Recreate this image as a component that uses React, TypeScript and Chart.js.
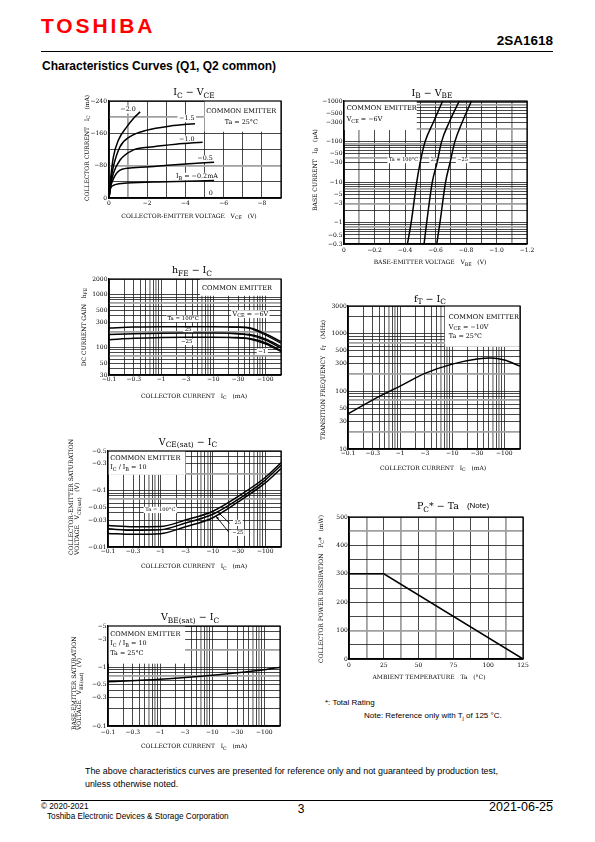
import React, { useEffect, useRef } from "react";
import { Chart, registerables } from "chart.js";
Chart.register(...registerables);

const SERIF = '"DejaVu Serif", "Liberation Serif", serif';
const SANS = '"Liberation Sans", Arial, sans-serif';

type Pt = [number, number];

// ---------------- Chart 1 : IC - VCE ----------------
const vceGrid = [0, 1, 2, 3, 4, 5, 6, 7, 8, 9];
const vceTickVals = [0, 2, 4, 6, 8];
const vceTickText = ["0", "−2", "−4", "−6", "−8"];
const icLinGrid = [0, 40, 80, 120, 160, 200, 240];
const icLinTickVals = [0, 80, 160, 240];
const icLinTickText = ["0", "−80", "−160", "−240"];
const icVceIbM20: Pt[] = [[0, 0], [0.1, 55], [0.23, 102], [0.49, 143], [0.93, 176], [1.3, 198], [1.63, 213]];
const icVceIbM15: Pt[] = [[0, 0], [0.1, 45], [0.23, 78], [0.58, 127], [1.1, 152], [2.0, 168], [3.2, 178], [4.5, 184]];
const icVceIbM10: Pt[] = [[0, 0], [0.1, 35], [0.23, 61], [0.58, 94], [1.28, 119], [2.33, 127], [3.5, 133], [4.9, 138]];
const icVceIbM05: Pt[] = [[0, 0], [0.05, 20], [0.14, 37], [0.49, 66], [1.1, 74], [2.33, 78], [4, 84], [5.5, 88.5]];
const icVceIbM02: Pt[] = [[0, 0], [0.03, 12], [0.09, 25], [0.32, 33], [0.93, 37], [3, 40], [5.5, 43]];
const icVceIb0: Pt[] = [[0, 0], [5.5, 0]];

// ---------------- Chart 2 : IB - VBE ----------------
const vbeGrid = [0, 0.1, 0.2, 0.3, 0.4, 0.5, 0.6, 0.7, 0.8, 0.9, 1.0, 1.1, 1.2];
const vbeTickVals = [0, 0.2, 0.4, 0.6, 0.8, 1.0, 1.2];
const vbeTickText = ["0", "−0.2", "−0.4", "−0.6", "−0.8", "−1.0", "−1.2"];
const ibGrid = [0.3, 0.4, 0.5, 0.6, 0.7, 0.8, 0.9, 1, 2, 3, 4, 5, 6, 7, 8, 9, 10, 20, 30, 40, 50, 60, 70, 80, 90, 100, 200, 300, 400, 500, 600, 700, 800, 900, 1000];
const ibTickVals = [0.3, 0.5, 1, 3, 5, 10, 30, 50, 100, 300, 500, 1000];
const ibTickText = ["−0.3", "−0.5", "−1", "−3", "−5", "−10", "−30", "−50", "−100", "−300", "−500", "−1000"];
const ibVbeTa100: Pt[] = [[0.416, 0.3], [0.44, 1], [0.477, 10], [0.499, 30], [0.532, 100], [0.586, 300], [0.647, 1000]];
const ibVbeTa25: Pt[] = [[0.525, 0.3], [0.542, 1], [0.579, 10], [0.61, 30], [0.64, 100], [0.69, 300], [0.756, 1000]];
const ibVbeTaM25: Pt[] = [[0.608, 0.3], [0.629, 1], [0.666, 10], [0.695, 30], [0.727, 100], [0.775, 300], [0.836, 1000]];

// ---------------- shared IC log axis ----------------
const icLogGrid = [0.1, 0.2, 0.3, 0.4, 0.5, 0.6, 0.7, 0.8, 0.9, 1, 2, 3, 4, 5, 6, 7, 8, 9, 10, 20, 30, 40, 50, 60, 70, 80, 90, 100, 200];
const icLogTickVals = [0.1, 0.3, 1, 3, 10, 30, 100];
const icLogTickText = ["−0.1", "−0.3", "−1", "−3", "−10", "−30", "−100"];

// ---------------- Chart 3 : hFE - IC ----------------
const hfeGrid = [30, 40, 50, 60, 70, 80, 90, 100, 200, 300, 400, 500, 600, 700, 800, 900, 1000, 2000];
const hfeTickVals = [30, 50, 100, 300, 500, 1000, 2000];
const hfeTickText = ["30", "50", "100", "300", "500", "1000", "2000"];
const hfeTa100V6: Pt[] = [[0.1, 235], [0.3, 244], [1, 248], [3, 249], [10, 249], [30, 245], [50, 236], [100, 182], [200, 129]];
const hfeTa25V6: Pt[] = [[0.1, 176], [0.3, 183], [1, 187], [3, 188], [10, 188], [30, 184], [50, 176], [100, 145], [200, 104]];
const hfeTaM25V6: Pt[] = [[0.1, 140], [0.3, 149], [1, 155], [3, 157], [10, 157], [30, 154], [50, 148], [100, 123], [200, 87]];
const hfeTa100V1: Pt[] = [[20, 246], [50, 230], [100, 172], [200, 120]];
const hfeTa25V1: Pt[] = [[20, 185], [50, 171], [100, 138], [200, 97]];
const hfeTaM25V1: Pt[] = [[20, 155], [50, 144], [100, 117], [200, 83]];

// ---------------- Chart 4 : fT - IC ----------------
const ftGrid = [10, 20, 30, 40, 50, 60, 70, 80, 90, 100, 200, 300, 400, 500, 600, 700, 800, 900, 1000, 2000, 3000];
const ftTickVals = [10, 30, 50, 100, 300, 500, 1000, 3000];
const ftTickText = ["10", "30", "50", "100", "300", "500", "1000", "3000"];
const ftCurve: Pt[] = [[0.1, 40.6], [0.3, 71], [1, 123], [3, 204], [10, 295], [30, 361], [55, 376], [100, 347], [200, 273]];

// ---------------- Chart 5 : VCE(sat) - IC ----------------
const vcesatGrid = [0.01, 0.02, 0.03, 0.04, 0.05, 0.06, 0.07, 0.08, 0.09, 0.1, 0.2, 0.3, 0.4, 0.5];
const vcesatTickVals = [0.01, 0.03, 0.05, 0.1, 0.3, 0.5];
const vcesatTickText = ["−0.01", "−0.03", "−0.05", "−0.1", "−0.3", "−0.5"];
const vcesatTa100: Pt[] = [[0.1, 0.024], [0.3, 0.0228], [1, 0.023], [3, 0.03], [10, 0.043], [30, 0.078], [100, 0.17], [200, 0.31]];
const vcesatTa25: Pt[] = [[0.1, 0.021], [0.3, 0.0198], [1, 0.0202], [3, 0.0265], [10, 0.038], [30, 0.069], [100, 0.153], [200, 0.28]];
const vcesatTaM25: Pt[] = [[0.1, 0.0174], [0.3, 0.0168], [1, 0.0172], [3, 0.0228], [10, 0.033], [30, 0.062], [100, 0.136], [200, 0.245]];

// ---------------- Chart 6 : PC - Ta ----------------
const taGrid = [0, 12.5, 25, 37.5, 50, 62.5, 75, 87.5, 100, 112.5, 125];
const taTickVals = [0, 25, 50, 75, 100, 125];
const taTickText = ["0", "25", "50", "75", "100", "125"];
const pcGrid = [0, 50, 100, 150, 200, 250, 300, 350, 400, 450, 500];
const pcTickVals = [0, 100, 200, 300, 400, 500];
const pcTickText = ["0", "100", "200", "300", "400", "500"];
const pcTaCurve: Pt[] = [[0, 300], [25, 300], [125, 0]];

// ---------------- Chart 7 : VBE(sat) - IC ----------------
const vbesatGrid = [0.1, 0.2, 0.3, 0.4, 0.5, 0.6, 0.7, 0.8, 0.9, 1, 2, 3, 4, 5];
const vbesatTickVals = [0.1, 0.3, 0.5, 1, 3, 5];
const vbesatTickText = ["−0.1", "−0.3", "−0.5", "−1", "−3", "−5"];
const vbesatCurve: Pt[] = [[0.1, 0.564], [1, 0.62], [10, 0.727], [100, 0.9], [200, 1.0]];

// ---------------- types ----------------
type AxisSpec = {
  type: "linear" | "logarithmic";
  min: number; max: number;
  grid: number[]; vals: number[]; text: string[];
  pad: number; grey?: number[];
};
type Series = { pts: Pt[]; w?: number; smooth?: boolean };
type Note = { x: number; y: number; t: string; align?: "left" | "center" | "right"; bg?: boolean; size?: number };
type Rect = { x0: number; x1: number; y0: number; y1: number };
type Seg = { x0: number; y0: number; x1: number; y1: number };
type PageText = { x: number; y: number; t: string; size?: number; rot?: boolean; align?: "left" | "center" | "right"; font?: string };
type Spec = {
  box: [number, number, number, number];
  area: [number, number, number, number];
  x: AxisSpec; y: AxisSpec;
  series: Series[]; rects: Rect[]; notes: Note[]; segs?: Seg[]; texts: PageText[];
};

const near = (a: number, b: number) => Math.abs(a - b) <= 1e-9 * Math.max(1, Math.abs(a));
const isGrey = (ax: AxisSpec, v: number) => !!ax.grey && ax.grey.some((g) => near(g, v));

function parseRich(s: string) {
  const out: { t: string; sub: boolean }[] = [];
  const re = /_\{([^}]*)\}/g;
  let last = 0;
  let m: RegExpExecArray | null;
  while ((m = re.exec(s))) {
    if (m.index > last) out.push({ t: s.slice(last, m.index), sub: false });
    out.push({ t: m[1], sub: true });
    last = re.lastIndex;
  }
  if (last < s.length) out.push({ t: s.slice(last), sub: false });
  return out;
}

function measureRich(ctx: CanvasRenderingContext2D, s: string, size: number, family: string) {
  const segs = parseRich(s);
  let total = 0;
  const widths = segs.map((sg) => {
    ctx.font = `${sg.sub ? size * 0.78 : size}px ${family}`;
    const w = ctx.measureText(sg.t).width;
    total += w;
    return w;
  });
  return { segs, widths, total };
}

function drawRich(ctx: CanvasRenderingContext2D, s: string, x: number, y: number, size: number, family: string, align: string, rot: boolean) {
  const { segs, widths, total } = measureRich(ctx, s, size, family);
  ctx.save();
  ctx.translate(x, y);
  if (rot) ctx.rotate(-Math.PI / 2);
  let cx = align === "center" ? -total / 2 : align === "right" ? -total : 0;
  ctx.textBaseline = "middle";
  ctx.textAlign = "left";
  ctx.fillStyle = "#000";
  segs.forEach((sg, i) => {
    ctx.font = `${sg.sub ? size * 0.78 : size}px ${family}`;
    ctx.fillText(sg.t, cx, sg.sub ? size * 0.32 : 0);
    cx += widths[i];
  });
  ctx.restore();
}

function makeScale(ax: AxisSpec, isX: boolean, margin: number) {
  return {
    type: ax.type,
    position: isX ? "bottom" : "left",
    min: ax.min,
    max: ax.max,
    afterBuildTicks: (s: any) => {
      s.ticks = ax.grid.map((v) => ({ value: v }));
    },
    afterFit: (s: any) => {
      if (isX) s.height = margin;
      else s.width = margin;
      s.paddingLeft = 0; s.paddingRight = 0; s.paddingTop = 0; s.paddingBottom = 0;
    },
    ticks: {
      autoSkip: false, maxRotation: 0, minRotation: 0, padding: ax.pad,
      color: "#000", font: { family: SERIF, size: 6 },
      callback: (v: number) => {
        const i = ax.vals.findIndex((t) => near(t, v));
        return i >= 0 ? ax.text[i] : "";
      },
    },
    grid: {
      drawTicks: false,
      color: (c: any) => (c.tick && isGrey(ax, c.tick.value) ? "#a0a0a0" : "#1a1a1a"),
      lineWidth: (c: any) => (c.tick && isGrey(ax, c.tick.value) ? 1.8 : 0.8),
    },
    border: { display: true, color: "#000", width: 1.2 },
  };
}

function DSChart({ spec }: { spec: Spec }) {
  const ref = useRef<HTMLCanvasElement>(null);
  const [bx, by, bw, bh] = spec.box;
  useEffect(() => {
    const [al, at, ar, ab] = spec.area;
    const plugin = {
      id: "ds",
      beforeDatasetsDraw(chart: any) {
        const { ctx, chartArea: a, scales } = chart;
        const sx = scales.x, sy = scales.y;
        ctx.save();
        ctx.beginPath();
        ctx.rect(a.left, a.top, a.right - a.left, a.bottom - a.top);
        ctx.clip();
        ctx.fillStyle = "#fff";
        spec.rects.forEach((r) => {
          const X0 = sx.getPixelForValue(r.x0), X1 = sx.getPixelForValue(r.x1);
          const Y0 = sy.getPixelForValue(r.y0), Y1 = sy.getPixelForValue(r.y1);
          ctx.fillRect(Math.min(X0, X1), Math.min(Y0, Y1), Math.abs(X1 - X0), Math.abs(Y1 - Y0));
        });
        spec.notes.forEach((n) => {
          if (!n.bg) return;
          const size = n.size ?? 6.4;
          const { total } = measureRich(ctx, n.t, size, SERIF);
          const px = sx.getPixelForValue(n.x), py = sy.getPixelForValue(n.y);
          const al2 = n.align ?? "center";
          const left = al2 === "center" ? px - total / 2 : al2 === "right" ? px - total : px;
          ctx.fillStyle = "#fff";
          ctx.fillRect(left - 1.5, py - size * 0.6, total + 3, size * 1.2);
        });
        ctx.restore();
      },
      afterDatasetsDraw(chart: any) {
        const { ctx, scales } = chart;
        const sx = scales.x, sy = scales.y;
        spec.notes.forEach((n) => {
          drawRich(ctx, n.t, sx.getPixelForValue(n.x), sy.getPixelForValue(n.y), n.size ?? 6.4, SERIF, n.align ?? "center", false);
        });
        (spec.segs || []).forEach((g) => {
          const x0 = sx.getPixelForValue(g.x0), y0 = sy.getPixelForValue(g.y0);
          const x1 = sx.getPixelForValue(g.x1), y1 = sy.getPixelForValue(g.y1);
          ctx.save();
          ctx.strokeStyle = "#000";
          ctx.fillStyle = "#000";
          ctx.lineWidth = 0.9;
          ctx.beginPath();
          ctx.moveTo(x0, y0);
          ctx.lineTo(x1, y1);
          ctx.stroke();
          const ang = Math.atan2(y1 - y0, x1 - x0);
          ctx.beginPath();
          ctx.moveTo(x1, y1);
          ctx.lineTo(x1 - 3.5 * Math.cos(ang - 0.35), y1 - 3.5 * Math.sin(ang - 0.35));
          ctx.lineTo(x1 - 3.5 * Math.cos(ang + 0.35), y1 - 3.5 * Math.sin(ang + 0.35));
          ctx.closePath();
          ctx.fill();
          ctx.restore();
        });
      },
      afterDraw(chart: any) {
        const { ctx, chartArea: a } = chart;
        ctx.save();
        ctx.strokeStyle = "#000";
        ctx.lineWidth = 1.2;
        ctx.strokeRect(a.left, a.top, a.right - a.left, a.bottom - a.top);
        ctx.restore();
        spec.texts.forEach((t) => {
          drawRich(ctx, t.t, t.x - bx, t.y - by, t.size ?? 6, t.font ?? SERIF, t.align ?? "center", !!t.rot);
        });
      },
    };
    const chart = new Chart(ref.current as HTMLCanvasElement, {
      type: "scatter",
      data: {
        datasets: spec.series.map((s) => ({
          data: s.pts.map(([x, y]) => ({ x, y })),
          showLine: true,
          borderColor: "#000",
          backgroundColor: "#000",
          borderWidth: s.w ?? 1.5,
          pointRadius: 0,
          tension: s.smooth === false ? 0 : 0.4,
          cubicInterpolationMode: s.smooth === false ? "default" : "monotone",
        })) as any,
      },
      options: {
        responsive: false,
        animation: false,
        devicePixelRatio: 1,
        layout: { padding: { left: 0, top: at - by, right: bx + bw - ar, bottom: 0 } },
        plugins: { legend: { display: false }, tooltip: { enabled: false }, title: { display: false } },
        scales: {
          x: makeScale(spec.x, true, by + bh - ab) as any,
          y: makeScale(spec.y, false, al - bx) as any,
        },
      },
      plugins: [plugin as any],
    });
    return () => chart.destroy();
  }, [spec]);
  return (
    <canvas
      ref={ref}
      width={bw}
      height={bh}
      style={{ position: "absolute", left: bx, top: by, width: bw, height: bh }}
    />
  );
}

const icLogAxis = (pad: number): AxisSpec => ({
  type: "logarithmic", min: 0.1, max: 200, grid: icLogGrid, vals: icLogTickVals, text: icLogTickText, pad,
  grey: [0.6, 0.8, 6, 8, 60, 80],
});

const spec1: Spec = {
  box: [60, 82, 240, 148],
  area: [109, 101, 281, 198],
  x: { type: "linear", min: 0, max: 9, grid: vceGrid, vals: vceTickVals, text: vceTickText, pad: 1.4, grey: [1] },
  y: { type: "linear", min: 0, max: 240, grid: icLinGrid, vals: icLinTickVals, text: icLinTickText, pad: 2, grey: [200, 80] },
  series: [{ pts: icVceIbM20 }, { pts: icVceIbM15 }, { pts: icVceIbM10 }, { pts: icVceIbM05 }, { pts: icVceIbM02 }, { pts: icVceIb0 }],
  rects: [{ x0: 5, x1: 9, y0: 164, y1: 240 }],
  notes: [
    { x: 6.92, y: 215, t: "COMMON EMITTER", size: 6.6 },
    { x: 6.92, y: 186, t: "Ta = 25°C", size: 6.4 },
    { x: 1.0, y: 219, t: "−2.0", bg: true },
    { x: 4.07, y: 197, t: "−1.5", bg: true },
    { x: 4.07, y: 145, t: "−1.0", bg: true },
    { x: 5.03, y: 97, t: "−0.5", bg: true },
    { x: 4.6, y: 53, t: "I_{B} = −0.2mA", bg: true },
    { x: 5.33, y: 12, t: "0", bg: true },
  ],
  texts: [
    { x: 194, y: 93, t: "I_{C} − V_{CE}", size: 9.5 },
    { x: 87, y: 148, t: "COLLECTOR CURRENT   I_{C}   (mA)", rot: true },
    { x: 189, y: 216, t: "COLLECTOR-EMITTER VOLTAGE   V_{CE}   (V)" },
  ],
};

const spec2: Spec = {
  box: [300, 82, 245, 190],
  area: [344, 101, 527, 244],
  x: { type: "linear", min: 0, max: 1.2, grid: vbeGrid, vals: vbeTickVals, text: vbeTickText, pad: 3.1, grey: [0.1, 1.1] },
  y: { type: "logarithmic", min: 0.3, max: 1000, grid: ibGrid, vals: ibTickVals, text: ibTickText, pad: 1.5, grey: [800, 200, 90, 40, 7, 3, 0.8] },
  series: [{ pts: ibVbeTa100 }, { pts: ibVbeTa25 }, { pts: ibVbeTaM25 }],
  rects: [{ x0: 0, x1: 0.477, y0: 193, y1: 1000 }],
  notes: [
    { x: 0.018, y: 673, t: "COMMON EMITTER", align: "left", size: 6.6 },
    { x: 0.018, y: 355, t: "V_{CE} = −6V", align: "left", size: 6.4 },
    { x: 0.39, y: 34.8, t: "Ta = 100°C", bg: true, size: 5 },
    { x: 0.59, y: 34.8, t: "25", bg: true, size: 5 },
    { x: 0.778, y: 34.8, t: "−25", bg: true, size: 5 },
  ],
  texts: [
    { x: 432, y: 93.3, t: "I_{B} − V_{BE}", size: 9.5 },
    { x: 315, y: 170, t: "BASE CURRENT   I_{B}   (μA)", rot: true },
    { x: 430, y: 262.7, t: "BASE-EMITTER VOLTAGE   V_{BE}   (V)" },
  ],
};

const spec3: Spec = {
  box: [60, 262, 240, 145],
  area: [109, 279, 281, 375],
  x: icLogAxis(0.7),
  y: { type: "logarithmic", min: 30, max: 2000, grid: hfeGrid, vals: hfeTickVals, text: hfeTickText, pad: 1.5, grey: [200, 70, 700] },
  series: [
    { pts: hfeTa100V6 }, { pts: hfeTa25V6 }, { pts: hfeTaM25V6 },
    { pts: hfeTa100V1, w: 1.2 }, { pts: hfeTa25V1, w: 1.2 }, { pts: hfeTaM25V1, w: 1.2 },
  ],
  rects: [{ x0: 5.6, x1: 200, y0: 960, y1: 2000 }],
  notes: [
    { x: 28.6, y: 1344, t: "COMMON EMITTER", size: 6.6 },
    { x: 51.5, y: 430, t: "V_{CE} = −6V", bg: true, size: 6.4 },
    { x: 87.6, y: 83.2, t: "−1", bg: true, size: 5.5 },
    { x: 2.65, y: 350, t: "Ta = 100°C", bg: true, size: 5.4 },
    { x: 3.3, y: 216, t: "25", bg: true, size: 5.4 },
    { x: 3.1, y: 128, t: "−25", bg: true, size: 5.4 },
  ],
  texts: [
    { x: 192, y: 270.7, t: "h_{FE} − I_{C}", size: 9.5 },
    { x: 84, y: 327, t: "DC CURRENT GAIN   h_{FE}", rot: true },
    { x: 194, y: 396, t: "COLLECTOR CURRENT   I_{C}   (mA)" },
  ],
};

const spec4: Spec = {
  box: [300, 290, 245, 188],
  area: [348, 306, 520, 449],
  x: icLogAxis(1.1),
  y: { type: "logarithmic", min: 10, max: 3000, grid: ftGrid, vals: ftTickVals, text: ftTickText, pad: 1.2, grey: [700, 200, 70, 20] },
  series: [{ pts: ftCurve }],
  rects: [{ x0: 7.2, x1: 200, y0: 590, y1: 3000 }],
  notes: [
    { x: 8.6, y: 1888, t: "COMMON EMITTER", align: "left", size: 6.6 },
    { x: 8.6, y: 1300, t: "V_{CE} = −10V", align: "left", size: 6.4 },
    { x: 8.6, y: 897, t: "Ta = 25°C", align: "left", size: 6.4 },
  ],
  texts: [
    { x: 430, y: 299.3, t: "f_{T} − I_{C}", size: 9.5 },
    { x: 323, y: 380, t: "TRANSITION FREQUENCY   f_{T}   (MHz)", rot: true },
    { x: 433, y: 468.3, t: "COLLECTOR CURRENT   I_{C}   (mA)" },
  ],
};

const spec5: Spec = {
  box: [60, 428, 240, 147],
  area: [108, 451, 281, 547],
  x: icLogAxis(0.8),
  y: { type: "logarithmic", min: 0.01, max: 0.5, grid: vcesatGrid, vals: vcesatTickVals, text: vcesatTickText, pad: 1.5, grey: [0.2, 0.07] },
  series: [{ pts: vcesatTa100 }, { pts: vcesatTa25 }, { pts: vcesatTaM25 }],
  rects: [{ x0: 0.1, x1: 3, y0: 0.19, y1: 0.5 }],
  notes: [
    { x: 0.1106, y: 0.367, t: "COMMON EMITTER", align: "left", size: 6.6 },
    { x: 0.1106, y: 0.255, t: "I_{C} / I_{B} = 10", align: "left", size: 6.4 },
    { x: 0.995, y: 0.0453, t: "Ta = 100°C", bg: true, size: 5.2 },
    { x: 30, y: 0.0267, t: "25", bg: true, size: 5.2 },
    { x: 30, y: 0.0178, t: "−25", bg: true, size: 5.2 },
  ],
  segs: [
    { x0: 21, y0: 0.0262, x1: 12.7, y1: 0.041 },
    { x0: 20, y0: 0.0185, x1: 11.5, y1: 0.035 },
  ],
  texts: [
    { x: 188, y: 442.5, t: "V_{CE(sat)} − I_{C}", size: 9.5 },
    { x: 71, y: 555, t: "COLLECTOR-EMITTER SATURATION", rot: true, align: "left" },
    { x: 77.5, y: 555, t: "VOLTAGE   V_{CE(sat)}   (V)", rot: true, align: "left" },
    { x: 194, y: 566.5, t: "COLLECTOR CURRENT   I_{C}   (mA)" },
  ],
};

const spec6: Spec = {
  box: [300, 495, 245, 195],
  area: [349, 517, 523, 659],
  x: { type: "linear", min: 0, max: 125, grid: taGrid, vals: taTickVals, text: taTickText, pad: 2.8, grey: [12.5, 37.5, 62.5, 112.5] },
  y: { type: "linear", min: 0, max: 500, grid: pcGrid, vals: pcTickVals, text: pcTickText, pad: 1.2, grey: [450, 300, 100] },
  series: [{ pts: pcTaCurve, smooth: false }],
  rects: [],
  notes: [],
  texts: [
    { x: 438, y: 506.7, t: "P_{C}* − Ta", size: 9.5 },
    { x: 478, y: 505.5, t: "(Note)", size: 8, font: SANS },
    { x: 321, y: 589, t: "COLLECTOR POWER DISSIPATION   P_{C}*   (mW)", rot: true },
    { x: 429, y: 677.7, t: "AMBIENT TEMPERATURE   Ta   (°C)" },
  ],
};

const spec7: Spec = {
  box: [60, 606, 240, 150],
  area: [108, 626, 280, 726],
  x: icLogAxis(3),
  y: { type: "logarithmic", min: 0.1, max: 5, grid: vbesatGrid, vals: vbesatTickVals, text: vbesatTickText, pad: 1.5, grey: [2, 0.7] },
  series: [{ pts: vbesatCurve }],
  rects: [{ x0: 0.1, x1: 3.03, y0: 1.146, y1: 5 }],
  notes: [
    { x: 0.1106, y: 3.65, t: "COMMON EMITTER", align: "left", size: 6.6 },
    { x: 0.1106, y: 2.52, t: "I_{C} / I_{B} = 10", align: "left", size: 6.4 },
    { x: 0.1106, y: 1.74, t: "Ta = 25°C", align: "left", size: 6.4 },
  ],
  texts: [
    { x: 190, y: 618, t: "V_{BE(sat)} − I_{C}", size: 9.5 },
    { x: 74, y: 730, t: "BASE-EMITTER SATURATION", rot: true, align: "left" },
    { x: 79.5, y: 730, t: "VOLTAGE   V_{BE(sat)}   (V)", rot: true, align: "left" },
    { x: 194, y: 746.5, t: "COLLECTOR CURRENT   I_{C}   (mA)" },
  ],
};

const specs = [spec1, spec2, spec3, spec4, spec5, spec6, spec7];

const abs = (o: React.CSSProperties): React.CSSProperties => ({ position: "absolute", fontFamily: SANS, color: "#000", whiteSpace: "nowrap", margin: 0, ...o });

export default function App() {
  return (
    <div style={{ position: "absolute", left: 0, top: 0, width: 595, height: 842, background: "#fff", overflow: "hidden" }}>
      <div style={abs({ left: 41, top: 15.3, fontSize: 21, lineHeight: "21px", fontWeight: 700, color: "#ff0000", letterSpacing: 2.9 })}>TOSHIBA</div>
      <div style={abs({ right: 42, top: 34.4, fontSize: 13.5, lineHeight: "14px", fontWeight: 700 })}>2SA1618</div>
      <div style={abs({ left: 41, top: 51, width: 512, height: 1.2, background: "#000" })} />
      <div style={abs({ left: 42, top: 60.2, fontSize: 12, lineHeight: "12px", fontWeight: 700 })}>Characteristics Curves (Q1, Q2 common)</div>

      {specs.map((s, i) => (
        <DSChart key={i} spec={s} />
      ))}

      <div style={abs({ left: 325, top: 699.3, fontSize: 8, lineHeight: "8px" })}>*: Total Rating</div>
      <div style={abs({ left: 364, top: 712, fontSize: 8, lineHeight: "8px" })}>
        Note: Reference only with T<sub style={{ fontSize: 5.5, verticalAlign: "-1.5px" }}>j</sub> of 125 °C.
      </div>
      <div style={abs({ left: 85, top: 765.4, fontSize: 8.9, lineHeight: "12.6px" })}>
        The above characteristics curves are presented for reference only and not guaranteed by production test,
        <br />
        unless otherwise noted.
      </div>
      <div style={abs({ left: 41, top: 799.5, width: 512, height: 1, background: "#000" })} />
      <div style={abs({ left: 41, top: 802.5, fontSize: 8.2, lineHeight: "8px" })}>© 2020-2021</div>
      <div style={abs({ left: 47, top: 812.5, fontSize: 8.2, lineHeight: "8px" })}>Toshiba Electronic Devices &amp; Storage Corporation</div>
      <div style={abs({ left: 291, width: 20, textAlign: "center", top: 803, fontSize: 12, lineHeight: "12px" })}>3</div>
      <div style={abs({ right: 42, top: 800.9, fontSize: 12.5, lineHeight: "12.5px" })}>2021-06-25</div>
    </div>
  );
}
